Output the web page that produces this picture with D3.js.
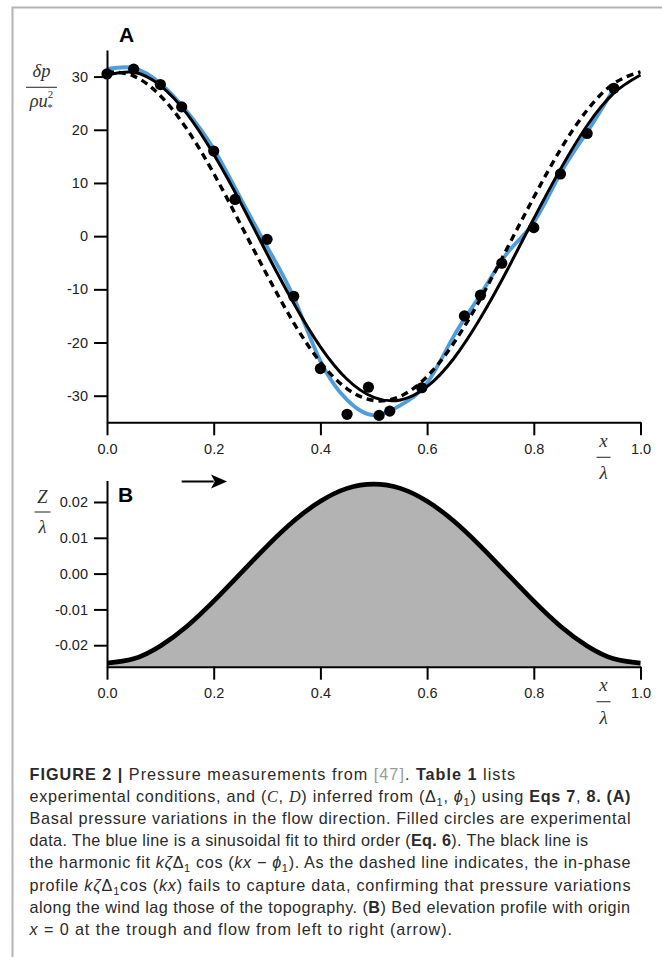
<!DOCTYPE html>
<html>
<head>
<meta charset="utf-8">
<script src="https://cdn.jsdelivr.net/npm/d3@7"></script>
<style>
  body { margin: 0; background: #fff; }
  svg { display: block; }
  .tick text { font-family: "Liberation Sans", Arial, sans-serif; font-size: 14.5px; fill: #222; }
  .math { font-family: "Liberation Serif", "Times New Roman", serif; font-style: italic; fill: #333; }
  .cap { font-family: "Liberation Sans", Arial, sans-serif; font-size: 16.2px; fill: #2a2a2a; }
</style>
</head>
<body>
<svg id="fig" width="662" height="957"></svg>
<script>
// Panel A: measured basal pressure (filled circles)
const dataX = [0.00, 0.05, 0.10, 0.14, 0.20, 0.24, 0.30, 0.35, 0.40, 0.45, 0.49, 0.51, 0.53, 0.59, 0.67, 0.70, 0.74, 0.80, 0.85, 0.90, 0.95];
const dataP = [30.5, 31.4, 28.5, 24.3, 16.0, 6.9, -0.6, -11.3, -24.9, -33.5, -28.4, -33.7, -32.9, -28.5, -15.0, -11.1, -5.1, 1.6, 11.7, 19.3, 27.8];

// fitted curves every 0.05 in x/lambda
const curveX = [0.00, 0.05, 0.10, 0.15, 0.20, 0.25, 0.30, 0.35, 0.40, 0.45, 0.50, 0.55, 0.60, 0.65, 0.70, 0.75, 0.80, 0.85, 0.90, 0.95, 1.00];
const blueFit = [31.4, 31.6, 28.7, 23.4, 16.4, 7.2, -2.0, -11.5, -23.5, -30.8, -33.7, -31.8, -27.6, -18.8, -11.0, -3.2, 2.6, 11.8, 19.6, 27.7];
const harmonicFit = [30.3, 30.8, 28.3, 23.0, 15.4, 6.4, -3.3, -12.6, -20.8, -26.9, -30.3, -30.8, -28.3, -23.0, -15.4, -6.4, 3.3, 12.6, 20.8, 26.9, 30.3];
const inPhase = [30.9, 30.1, 26.4, 20.1, 11.8, 2.3, -7.3, -16.3, -23.7, -28.7, -30.9, -30.1, -26.4, -20.1, -11.8, -2.3, 7.3, 16.3, 23.7, 28.7, 30.9];

// Panel B: bed elevation Z/lambda
const bedZ = [-0.025, -0.0238, -0.0202, -0.0147, -0.0077, 0, 0.0077, 0.0147, 0.0202, 0.0238, 0.025, 0.0238, 0.0202, 0.0147, 0.0077, 0, -0.0077, -0.0147, -0.0202, -0.0238, -0.025];

// tick labels
const xTicks = [0, 0.2, 0.4, 0.6, 0.8, 1.0];
const pTicks = [-30, -20, -10, 0, 10, 20, 30];
const zTicks = [-0.02, -0.01, 0, 0.01, 0.02];

const svg = d3.select("#fig");

// grey frame of the page
svg.append("path")
  .attr("d", "M12.5,957V7.5H662")
  .attr("fill", "none").attr("stroke", "#b4b4b4").attr("stroke-width", 2);

const xA = d3.scaleLinear().domain([0, 1]).range([107, 640.5]);
const yA = d3.scaleLinear().domain([-35, 35]).range([422.3, 50]);
const yB = d3.scaleLinear().domain([-0.026, 0.026]).range([666.7, 480.5]);

function styleAxis(g) {
  g.select(".domain").attr("stroke", "#000").attr("stroke-width", 2);
  g.selectAll(".tick line").attr("stroke", "#000").attr("stroke-width", 2);
  g.selectAll(".tick text").attr("font-family", null).attr("font-size", null);
}

// ---- panel A ----
const gA = svg.append("g");

const lineA = (ys) => d3.line()
  .x((d, i) => xA(curveX[i]))
  .y(d => yA(d))
  .curve(d3.curveNatural)(ys);

gA.append("path").attr("d", lineA(blueFit))
  .attr("fill", "none").attr("stroke", "#4f9ddb").attr("stroke-width", 3.8);
gA.append("path").attr("d", lineA(inPhase))
  .attr("fill", "none").attr("stroke", "#000").attr("stroke-width", 3.4)
  .attr("stroke-dasharray", "7,5");
gA.append("path").attr("d", lineA(harmonicFit))
  .attr("fill", "none").attr("stroke", "#000").attr("stroke-width", 3);

gA.selectAll("circle").data(dataX).join("circle")
  .attr("cx", d => xA(d))
  .attr("cy", (d, i) => yA(dataP[i]))
  .attr("r", 5.6)
  .attr("fill", "#000");

gA.append("g").attr("transform", `translate(0,${yA(-35)})`)
  .call(d3.axisBottom(xA).tickValues(xTicks).tickFormat(d => d.toFixed(1))
    .tickSize(13).tickPadding(8).tickSizeOuter(0))
  .call(styleAxis);
gA.append("g").attr("transform", `translate(${xA(0)},0)`)
  .call(d3.axisLeft(yA).tickValues(pTicks).tickFormat(d => String(d))
    .tickSize(13).tickPadding(6).tickSizeOuter(0))
  .call(styleAxis);

svg.append("text").attr("x", 119).attr("y", 41.5)
  .attr("font-family", "Liberation Sans, Arial, sans-serif")
  .attr("font-weight", "bold").attr("font-size", 21).text("A");

// ---- panel B ----
const gB = svg.append("g");
gB.append("path")
  .attr("d", d3.area()
    .x((d, i) => xA(curveX[i]))
    .y0(yB(-0.026)).y1(d => yB(d))
    .curve(d3.curveNatural)(bedZ))
  .attr("fill", "#b3b3b3");
gB.append("path")
  .attr("d", d3.line()
    .x((d, i) => xA(curveX[i]))
    .y(d => yB(d))
    .curve(d3.curveNatural)(bedZ))
  .attr("fill", "none").attr("stroke", "#000").attr("stroke-width", 4.6);

gB.append("g").attr("transform", `translate(0,${yB(-0.026)})`)
  .call(d3.axisBottom(xA).tickValues(xTicks).tickFormat(d => d.toFixed(1))
    .tickSize(13).tickPadding(8).tickSizeOuter(0))
  .call(styleAxis);
gB.append("g").attr("transform", `translate(${xA(0)},0)`)
  .call(d3.axisLeft(yB).tickValues(zTicks).tickFormat(d => d.toFixed(2))
    .tickSize(13).tickPadding(6).tickSizeOuter(0))
  .call(styleAxis);

svg.append("text").attr("x", 118).attr("y", 501.7)
  .attr("font-family", "Liberation Sans, Arial, sans-serif")
  .attr("font-weight", "bold").attr("font-size", 21).text("B");

// flow direction arrow
const ay = 481.5;
svg.append("line")
  .attr("x1", xA(0.14)).attr("x2", xA(0.2)).attr("y1", ay).attr("y2", ay)
  .attr("stroke", "#000").attr("stroke-width", 2);
svg.append("path")
  .attr("d", `M${xA(0.225)},${ay}L${xA(0.195)},${ay - 7}L${xA(0.202)},${ay}L${xA(0.195)},${ay + 7}Z`)
  .attr("fill", "#000");

// ---- axis labels as fractions ----
function fraction(cx, yTop, top, bottom, barY, yBot, barW, size) {
  const g = svg.append("g").attr("class", "math").attr("font-size", size);
  const t = g.append("text").attr("x", cx).attr("y", yTop).attr("text-anchor", "middle");
  top(t);
  g.append("line").attr("x1", cx - barW / 2).attr("x2", cx + barW / 2)
    .attr("y1", barY).attr("y2", barY).attr("stroke", "#333").attr("stroke-width", 1.1);
  const b = g.append("text").attr("x", cx).attr("y", yBot).attr("text-anchor", "middle");
  bottom(b);
}

// delta p / rho u*^2
fraction(41.5, 77, t => t.text("δp"), b => {
  b.append("tspan").text("ρu");
  b.append("tspan").attr("font-size", 11).attr("dy", -9).attr("font-style", "normal").text("2");
  b.append("tspan").attr("font-size", 11).attr("dx", -6).attr("dy", 13).attr("font-style", "normal").text("*");
}, 87.3, 106.5, 31, 18.5);

fraction(42.5, 503, t => t.text("Z"), b => b.text("λ"), 512, 533, 16, 18.5);

fraction(603.5, 446.7, t => t.text("x"), b => b.text("λ"), 457.3, 479.3, 14, 19);
fraction(603.5, 446.7 + 244.4, t => t.text("x"), b => b.text("λ"), 457.3 + 244.4, 479.3 + 244.4, 14, 19);

// ---- caption ----
const captionLines = [
  [["FIGURE 2 |", "b"], [" Pressure measurements from "], ["[47]", "g"], [". "], ["Table 1", "b"], [" lists"]],
  [["experimental conditions, and ("], ["C", "m"], [", "], ["D", "m"], [") inferred from (Δ"], ["1", "sub"], [", "], ["ϕ", "i"], ["1", "sub"], [") using "], ["Eqs 7", "b"], [", "], ["8. (A)", "b"]],
  [["Basal pressure variations in the flow direction. Filled circles are experimental"]],
  [["data. The blue line is a sinusoidal fit to third order ("], ["Eq. 6", "b"], ["). The black line is"]],
  [["the harmonic fit "], ["kζ", "i"], ["Δ"], ["1", "sub"], [" cos ("], ["kx", "i"], [" − "], ["ϕ", "i"], ["1", "sub"], ["). As the dashed line indicates, the in-phase"]],
  [["profile "], ["kζ", "i"], ["Δ"], ["1", "sub"], ["cos ("], ["kx", "i"], [") fails to capture data, confirming that pressure variations"]],
  [["along the wind lag those of the topography. ("], ["B", "b"], [") Bed elevation profile with origin"]],
  [["x", "i"], [" = 0 at the trough and flow from left to right (arrow)."]]
];
const captionEnds = [515, 630.5, 630.5, 588, 630.5, 630.5, 630, 452];

const capX = 29.5;
captionLines.forEach((segs, li) => {
  const t = svg.append("text").attr("class", "cap")
    .attr("x", capX).attr("y", 780 + li * 22.1)
    .attr("textLength", captionEnds[li] - capX)
    .attr("lengthAdjust", "spacing");
  let shifted = false;
  segs.forEach(([s, kind]) => {
    const sp = t.append("tspan").text(s);
    if (kind === "b") sp.attr("font-weight", "bold");
    if (kind === "i") sp.attr("font-style", "italic");
    if (kind === "g") sp.attr("fill", "#9a9a9a");
    if (kind === "m") sp.attr("font-family", "Liberation Serif, serif").attr("font-style", "italic");
    if (kind === "sub") { sp.attr("font-size", 11).attr("dy", 4); shifted = true; }
    else if (shifted) { sp.attr("dy", -4); shifted = false; }
  });
});
</script>
</body>
</html>
